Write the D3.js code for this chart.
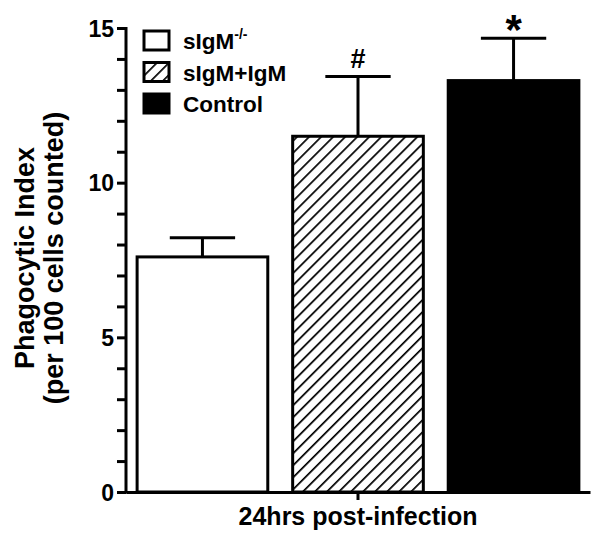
<!DOCTYPE html>
<html>
  <head>
    <meta charset="utf-8">
    <style>
      html, body { margin: 0; padding: 0; background: #fff; }
      svg { display: block; }
      text { font-family: Arial, "Liberation Sans", sans-serif; font-weight: bold; fill: #000; }
    </style>
  </head>
  <body>
    <svg id="chart" width="601" height="534"></svg>
    <script src="https://cdnjs.cloudflare.com/ajax/libs/d3/7.8.5/d3.min.js"></script>
    <script>
      // data
      var groups = ["sIgM-/-", "sIgM+IgM", "Control"];
      var means = [7.6, 11.5, 13.3];
      var errors = [0.62, 1.93, 1.37];
      var marks = ["", "#", "*"];
      var yTicks = [0, 5, 10, 15];
      var category = "24hrs post-infection";

      var svg = d3.select("#chart");
      var mLeft = 126, mRight = 590, mTop = 28, mBottom = 492;

      var y = d3.scaleLinear().domain([0, 15]).range([mBottom, mTop]);
      var x = d3.scaleBand().domain(groups).range([134, 582]).paddingInner(0.16).paddingOuter(0.02);

      var defs = svg.append("defs");
      var pat = defs.append("pattern")
        .attr("id", "hatch")
        .attr("patternUnits", "userSpaceOnUse")
        .attr("width", 8.5).attr("height", 8.5)
        .attr("patternTransform", "rotate(45)");
      pat.append("rect").attr("width", 8.5).attr("height", 8.5).attr("fill", "#fff");
      pat.append("line").attr("x1", 0).attr("y1", 0).attr("x2", 0).attr("y2", 8.5)
        .attr("stroke", "#000").attr("stroke-width", 3.4);

      var fills = ["#fff", "url(#hatch)", "#000"];

      // bars
      svg.selectAll("rect.bar").data(groups).enter().append("rect")
        .attr("class", "bar")
        .attr("x", function(d) { return x(d); })
        .attr("y", function(d, i) { return y(means[i]); })
        .attr("width", x.bandwidth())
        .attr("height", function(d, i) { return mBottom - y(means[i]); })
        .attr("fill", function(d, i) { return fills[i]; })
        .attr("stroke", "#000").attr("stroke-width", 3);

      // error bars
      var eb = svg.selectAll("g.err").data(groups).enter().append("g").attr("class", "err");
      eb.append("line")
        .attr("x1", function(d) { return x(d) + x.bandwidth() / 2; })
        .attr("x2", function(d) { return x(d) + x.bandwidth() / 2; })
        .attr("y1", function(d, i) { return y(means[i]); })
        .attr("y2", function(d, i) { return y(means[i] + errors[i]); })
        .attr("stroke", "#000").attr("stroke-width", 3);
      eb.append("line")
        .attr("x1", function(d) { return x(d) + x.bandwidth() / 4; })
        .attr("x2", function(d) { return x(d) + x.bandwidth() * 3 / 4; })
        .attr("y1", function(d, i) { return y(means[i] + errors[i]); })
        .attr("y2", function(d, i) { return y(means[i] + errors[i]); })
        .attr("stroke", "#000").attr("stroke-width", 3);

      // significance marks
      svg.selectAll("text.mark").data(groups).enter().append("text")
        .attr("class", "mark")
        .attr("x", function(d) { return x(d) + x.bandwidth() / 2; })
        .attr("y", function(d, i) { return y(means[i] + errors[i]) - (i == 2 ? -6 : 9); })
        .attr("text-anchor", "middle")
        .style("font-size", function(d, i) { return i == 2 ? "42px" : "27px"; })
        .text(function(d, i) { return marks[i]; });

      // y axis
      var yAxis = d3.axisLeft(y).tickValues(d3.range(0, 16)).tickSize(9).tickFormat(function(d) {
        return yTicks.indexOf(d) >= 0 ? d : "";
      });
      var gy = svg.append("g").attr("transform", "translate(" + mLeft + ",0)").call(yAxis);
      gy.select(".domain").attr("stroke-width", 3).attr("d", "M0," + (mTop - 1) + "V" + (mBottom + 1.5));
      gy.selectAll(".tick line").attr("stroke-width", 3);
      gy.selectAll(".tick text").style("font-size", "23px").attr("x", -12).attr("dy", "0.36em");

      // x axis
      var xc = d3.scaleBand().domain([category]).range([mLeft, mRight]);
      var xAxis = d3.axisBottom(xc).tickSize(8).tickSizeOuter(0);
      var gx = svg.append("g").attr("transform", "translate(0," + mBottom + ")").call(xAxis);
      gx.select(".domain").attr("stroke-width", 3);
      gx.selectAll(".tick line").attr("stroke-width", 3);
      gx.selectAll(".tick text").style("font-size", "25px").attr("y", 15);

      // y title
      var yt = svg.append("text").attr("transform", "translate(34,258) rotate(-90)")
        .attr("text-anchor", "middle").style("font-size", "27px");
      yt.append("tspan").attr("x", 0).attr("dy", 0).text("Phagocytic Index");
      yt.append("tspan").attr("x", 0).attr("dy", 29).text("(per 100 cells counted)");

      // legend
      var leg = svg.append("g").attr("transform", "translate(144,31)");
      var items = leg.selectAll("g").data(groups).enter().append("g")
        .attr("transform", function(d, i) { return "translate(0," + (i * 31.5) + ")"; });
      items.append("rect").attr("width", 25).attr("height", 19)
        .attr("fill", function(d, i) { return fills[i]; })
        .attr("stroke", "#000").attr("stroke-width", 3);
      var lt = items.append("text").attr("x", 39).attr("y", 18).style("font-size", "22.5px");
      lt.each(function(d) {
        var t = d3.select(this);
        if (d == "sIgM-/-") {
          t.append("tspan").text("sIgM");
          t.append("tspan").attr("dy", -10).style("font-size", "14px").text("-/-");
        } else {
          t.text(d);
        }
      });
    </script>
  </body>
</html>
